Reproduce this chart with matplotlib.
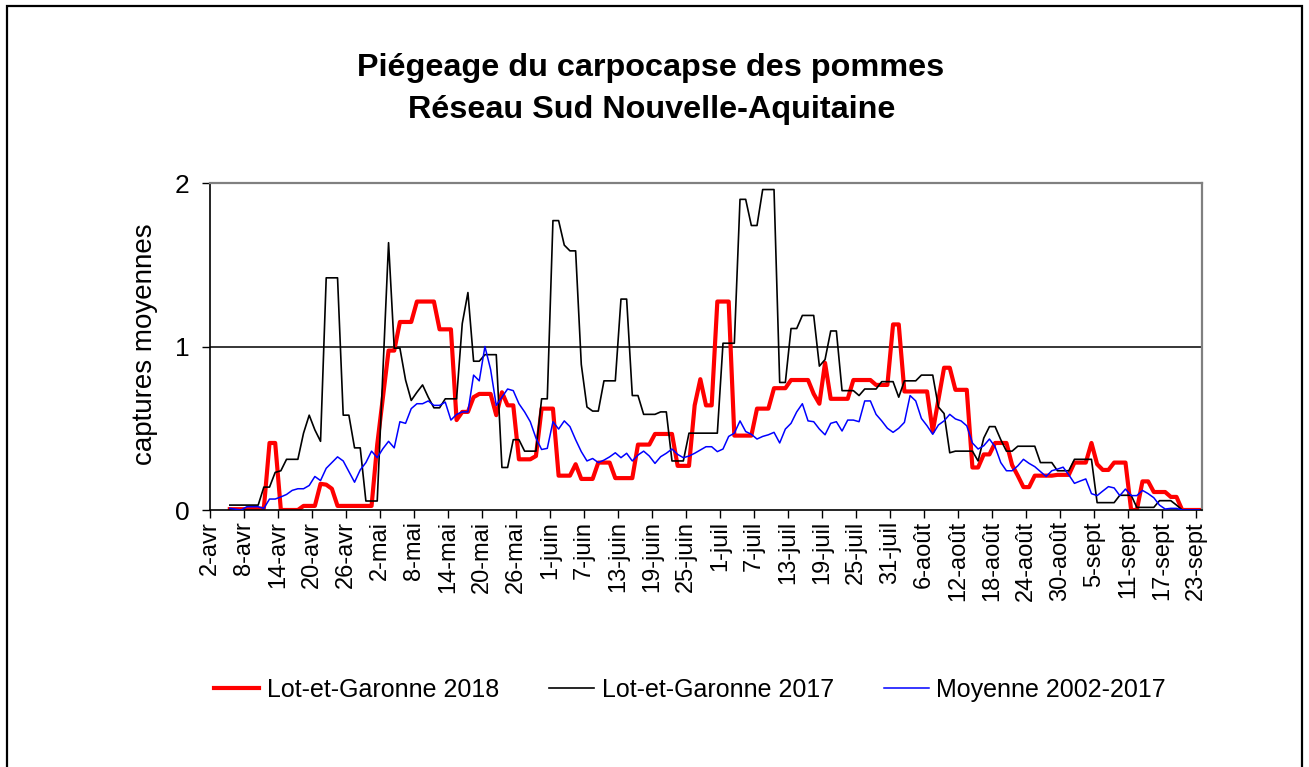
import numpy as np
import matplotlib.pyplot as plt
from matplotlib.patches import Rectangle

plt.rcParams['font.family'] = ['Liberation Sans', 'DejaVu Sans']

# x axis: one category per day, from 2-avr to 23-sept
tick_labels = ['2-avr', '8-avr', '14-avr', '20-avr', '26-avr', '2-mai', '8-mai',
               '14-mai', '20-mai', '26-mai', '1-juin', '7-juin', '13-juin',
               '19-juin', '25-juin', '1-juil', '7-juil', '13-juil', '19-juil',
               '25-juil', '31-juil', '6-août', '12-août', '18-août', '24-août',
               '30-août', '5-sept', '11-sept', '17-sept', '23-sept']
n_days = 175
first_day = 3   # first reading on 5-avr

# daily values, 5-avr .. 23-sept
lg_2018 = [
    .005, .005, .005, .005, .005, .005, .01, .41, .41, 0,
    0, 0, 0, .025, .025, .025, .16, .155, .13, .025,
    .025, .025, .025, .025, .025, .025, .40, .69, .975, .975,
    1.15, 1.15, 1.15, 1.275, 1.275, 1.275, 1.275, 1.105, 1.105, 1.105,
    .55, .60, .60, .69, .71, .71, .71, .58, .72, .64,
    .64, .31, .31, .31, .33, .62, .62, .62, .21, .21,
    .21, .28, .19, .19, .19, .29, .29, .29, .195, .195,
    .195, .195, .40, .40, .40, .465, .465, .465, .465, .27,
    .27, .27, .64, .80, .64, .64, 1.275, 1.275, 1.275, .455,
    .455, .455, .455, .62, .62, .62, .745, .745, .745, .795,
    .795, .795, .795, .71, .65, .90, .68, .68, .68, .68,
    .795, .795, .795, .795, .765, .765, .765, 1.135, 1.135, .725,
    .725, .725, .725, .725, .48, .675, .87, .87, .735, .735,
    .735, .26, .26, .34, .34, .41, .41, .41, .275, .21,
    .14, .14, .21, .21, .21, .21, .215, .215, .215, .29,
    .29, .29, .41, .28, .245, .245, .29, .29, .29, 0,
    0, .175, .175, .11, .11, .11, .08, .08, 0, 0,
    0, 0]

lg_2017 = [
    .03, .03, .03, .03, .03, .03, .14, .14, .23, .24,
    .31, .31, .31, .47, .58, .49, .42, 1.42, 1.42, 1.42,
    .58, .58, .38, .38, .055, .055, .055, .85, 1.635, .99,
    .99, .795, .67, .72, .765, .69, .625, .625, .68, .68,
    .68, 1.14, 1.33, .91, .91, .95, .95, .95, .26, .26,
    .43, .43, .36, .36, .36, .68, .68, 1.77, 1.77, 1.62,
    1.585, 1.585, .89, .63, .605, .605, .79, .79, .79, 1.29,
    1.29, .70, .70, .585, .585, .585, .60, .60, .30, .30,
    .30, .47, .47, .47, .47, .47, .47, 1.02, 1.02, 1.02,
    1.90, 1.90, 1.74, 1.74, 1.96, 1.96, 1.96, .78, .78, 1.11,
    1.11, 1.19, 1.19, 1.19, .88, .92, 1.095, 1.095, .73, .73,
    .73, .70, .74, .74, .74, .785, .785, .785, .69, .79,
    .79, .79, .825, .825, .825, .63, .59, .35, .36, .36,
    .36, .36, .30, .44, .51, .51, .43, .36, .36, .39,
    .39, .39, .39, .29, .29, .29, .24, .24, .24, .31,
    .31, .31, .31, .045, .045, .045, .045, .09, .09, .09,
    .016, .016, .016, .016, .057, .057, .057, .03, 0, 0,
    0, 0]

moy_2002_2017 = [
    .01, .005, 0, .02, .02, .02, .01, .067, .067, .08,
    .095, .12, .13, .13, .15, .205, .18, .255, .29, .325,
    .30, .235, .17, .245, .29, .36, .32, .375, .42, .38,
    .54, .53, .62, .65, .65, .667, .64, .64, .66, .55,
    .585, .60, .60, .825, .79, 1.0, .86, .64, .69, .74,
    .73, .65, .60, .54, .44, .37, .377, .54, .495, .545,
    .51, .43, .357, .30, .315, .29, .305, .325, .35, .32,
    .347, .30, .336, .36, .33, .285, .326, .347, .373, .34,
    .32, .33, .347, .367, .387, .387, .357, .373, .45, .47,
    .545, .48, .463, .434, .45, .46, .475, .41, .495, .53,
    .60, .65, .545, .54, .495, .46, .53, .54, .483, .55,
    .55, .54, .667, .667, .585, .545, .50, .475, .50, .536,
    .70, .667, .56, .515, .463, .52, .545, .585, .557, .545,
    .515, .41, .373, .393, .434, .387, .29, .24, .24, .27,
    .31, .285, .265, .235, .205, .24, .25, .262, .215, .163,
    .177, .19, .10, .088, .116, .143, .135, .088, .128, .088,
    .088, .12, .10, .075, .03, .006, .01, .01, 0, 0,
    0, 0]

days = np.arange(first_day, first_day + len(lg_2018)) + 0.5

W, H = 1309, 767
fig = plt.figure(figsize=(W / 100, H / 100), dpi=100)
fig.patch.set_facecolor('white')

# outer frame of the chart
fig.add_artist(Rectangle((7 / W, -0.05), (1302 - 7) / W, 1.05 - 6 / H,
                         transform=fig.transFigure, fill=False,
                         edgecolor='black', lw=1.6))

ax = fig.add_axes([210 / W, 1 - 510 / H, 992 / W, 327 / H])

ax.axhline(1, color='black', lw=1.1, zorder=1)
ax.plot(days, lg_2018, color='#ff0000', lw=3.0, solid_joinstyle='round', zorder=2,
        label='Lot-et-Garonne 2018')
ax.plot(days, lg_2017, color='black', lw=1.2, zorder=3, label='Lot-et-Garonne 2017')
ax.plot(days, moy_2002_2017, color='#0000ff', lw=1.1, zorder=4,
        label='Moyenne 2002-2017')

ax.set_xlim(0, n_days)
ax.set_ylim(0, 2)
ax.set_yticks([0, 1, 2])
ax.set_xticks(np.arange(0, n_days, 6))
ax.set_xticklabels(tick_labels, rotation=90, fontsize=17)
ax.tick_params(axis='x', direction='out', length=6, width=1, pad=2)
ax.tick_params(axis='y', direction='out', length=6, width=1, pad=9, labelsize=19)

for s in ['top', 'right']:
    ax.spines[s].set_color('#808080')
    ax.spines[s].set_linewidth(1.6)
for s in ['left', 'bottom']:
    ax.spines[s].set_color('black')
    ax.spines[s].set_linewidth(1.2)

fig.text(145 / W, 1 - 344 / H, 'captures moyennes', rotation=90,
         ha='center', va='center', fontsize=20)

fig.text(651 / W, 1 - 68 / H, 'Piégeage du carpocapse des pommes',
         ha='center', va='center', fontsize=23.3, fontweight='bold')
fig.text(652 / W, 1 - 110 / H, 'Réseau Sud Nouvelle-Aquitaine',
         ha='center', va='center', fontsize=23.3, fontweight='bold')

handles, labels = ax.get_legend_handles_labels()
fig.legend(handles, labels, loc='center', bbox_to_anchor=(690 / W, 1 - 690 / H),
           ncol=3, frameon=False, fontsize=18, handlelength=1.8,
           handletextpad=0.3, columnspacing=2.0)

fig.savefig('out.png', dpi=100)
